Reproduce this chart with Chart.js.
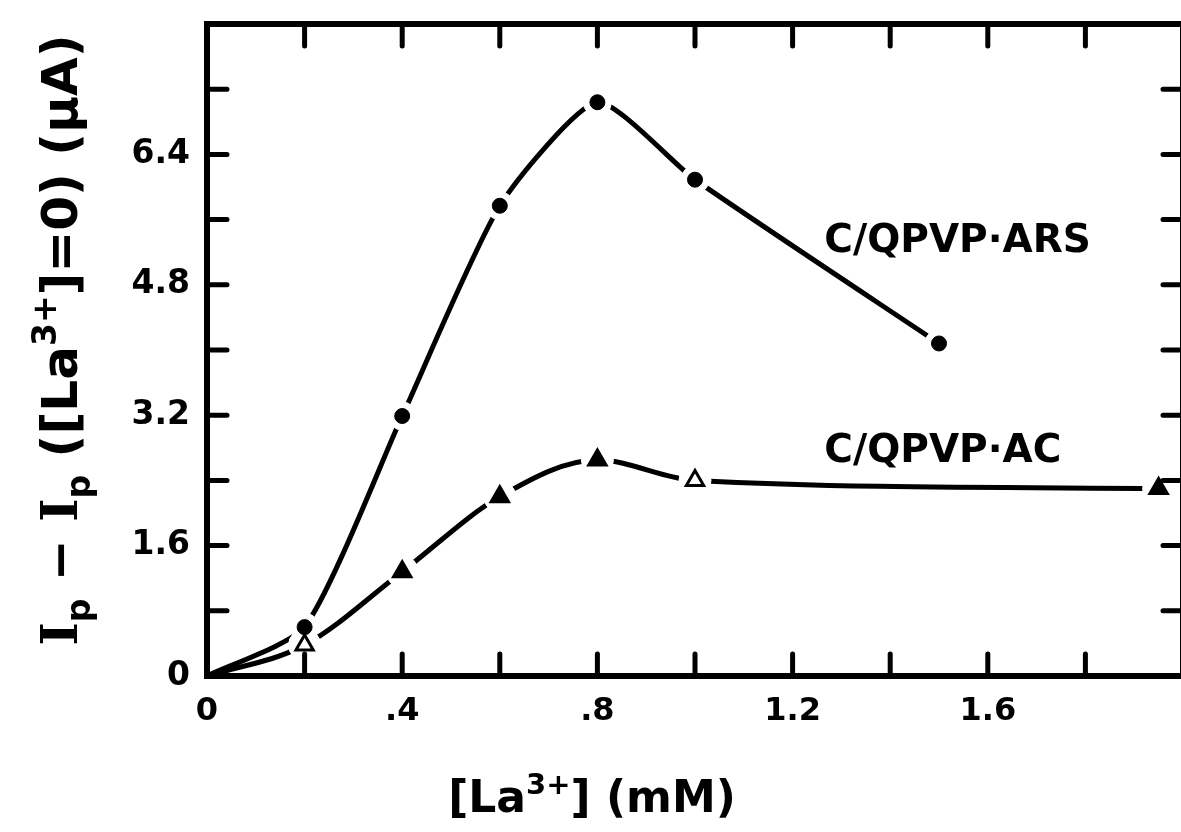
<!DOCTYPE html>
<html>
<head>
<meta charset="utf-8">
<script src="https://cdn.jsdelivr.net/npm/chart.js@4/dist/chart.umd.min.js"></script>
<style>
  html, body { margin: 0; padding: 0; background: #fff; overflow: hidden; }
  #wrap { position: relative; width: 1200px; height: 832px; }
</style>
</head>
<body>
<div id="wrap"><canvas id="chart" width="1200" height="832"></canvas></div>
<script>
// La3+ concentration (mM) and peak-current change (µA) for the two electrodes
const arsConcentration = [0, 0.2, 0.4, 0.6, 0.8, 1.0, 1.5];
const arsCurrent       = [0, 0.60, 3.19, 5.77, 7.04, 6.09, 4.08];
const acConcentration  = [0, 0.2, 0.4, 0.6, 0.8, 1.0, 1.95];
const acCurrent        = [0, 0.38, 1.28, 2.20, 2.65, 2.40, 2.30];

const xTickLabels = ['0', '.4', '.8', '1.2', '1.6', ''];
const yTickLabels = ['0', '1.6', '3.2', '4.8', '6.4', ''];
const seriesNames = ['C/QPVP·ARS', 'C/QPVP·AC'];

const INK = '#000';
const PAPER = '#fff';
const SANS = '"DejaVu Sans", "Liberation Sans", Arial, sans-serif';
const SERIF = '"DejaVu Serif", "Liberation Serif", serif';

const toXY = (xs, ys) => xs.map((x, i) => ({ x, y: ys[i] }));
// the origin point only anchors the curve, it carries no marker
const markerRadius = (xs, r) => xs.map((x, i) => (i === 0 ? 0 : r));

// Draws a run of text with optional sub/superscript pieces, centred on (cx, baseline)
function drawRich(ctx, parts, cx, baseline, size) {
  const fontFor = p => {
    const s = p.mode ? Math.round(size * 0.66) : size;
    return 'bold ' + s + 'px ' + (p.serif ? SERIF : SANS);
  };
  let total = 0;
  parts.forEach(p => { ctx.font = fontFor(p); p.w = ctx.measureText(p.t).width; total += p.w; });
  let x = cx - total / 2;
  ctx.textAlign = 'left';
  ctx.textBaseline = 'alphabetic';
  parts.forEach(p => {
    ctx.font = fontFor(p);
    let dy = 0;
    if (p.mode === 'sub') dy = size * 0.26;
    if (p.mode === 'sup') dy = -size * 0.42;
    ctx.fillText(p.t, x, baseline + dy);
    x += p.w;
  });
}

const framePlugin = {
  id: 'frameAndLabels',
  afterDraw(chart) {
    const { ctx, chartArea: a, scales: { x, y } } = chart;
    ctx.save();
    ctx.strokeStyle = INK;
    ctx.fillStyle = INK;
    ctx.lineCap = 'round';

    // inward tick marks on all four sides
    ctx.lineWidth = 5;
    for (let v = 0.2; v < 1.99; v += 0.2) {
      const px = x.getPixelForValue(v);
      ctx.beginPath();
      ctx.moveTo(px, a.bottom); ctx.lineTo(px, a.bottom - 22);
      ctx.moveTo(px, a.top); ctx.lineTo(px, a.top + 22);
      ctx.stroke();
    }
    for (let v = 0.8; v < 7.99; v += 0.8) {
      const py = y.getPixelForValue(v);
      ctx.beginPath();
      ctx.moveTo(a.left, py); ctx.lineTo(a.left + 20, py);
      ctx.moveTo(a.right, py); ctx.lineTo(a.right - 20, py);
      ctx.stroke();
    }

    // plot frame
    ctx.lineWidth = 6;
    ctx.lineCap = 'square';
    ctx.strokeRect(a.left, a.top, a.right - a.left, a.bottom - a.top);

    // series labels
    ctx.font = 'bold 39px ' + SANS;
    ctx.textAlign = 'left';
    ctx.textBaseline = 'alphabetic';
    ctx.fillText(seriesNames[0], x.getPixelForValue(1.265), y.getPixelForValue(5.2));
    ctx.fillText(seriesNames[1], x.getPixelForValue(1.265), y.getPixelForValue(2.63));

    // x-axis title
    drawRich(ctx, [
      { t: '[La' }, { t: '3+', mode: 'sup' }, { t: '] (mM)' }
    ], 592, 812, 44);

    // y-axis title, rotated to read bottom-to-top
    ctx.translate(77, 340);
    ctx.rotate(-Math.PI / 2);
    drawRich(ctx, [
      { t: 'I', serif: true }, { t: 'p', mode: 'sub' }, { t: ' − ' },
      { t: 'I', serif: true }, { t: 'p', mode: 'sub' }, { t: ' ([La' },
      { t: '3+', mode: 'sup' }, { t: ']=0) (μA)' }
    ], 0, 0, 50);
    ctx.restore();
  }
};

const lineStyle = {
  showLine: true,
  borderColor: INK,
  borderWidth: 5,
  pointRadius: 0,
  borderCapStyle: 'round',
  borderJoinStyle: 'round',
  fill: false,
  order: 3
};

new Chart(document.getElementById('chart'), {
  type: 'scatter',
  data: {
    datasets: [
      // markers (drawn on top)
      {
        label: 'ars-marker', data: toXY(arsConcentration, arsCurrent), showLine: false,
        pointStyle: 'circle', pointRadius: markerRadius(arsConcentration, 7.5),
        pointBackgroundColor: INK, pointBorderColor: INK, pointBorderWidth: 1, order: 1
      },
      {
        label: 'ac-marker', data: toXY(acConcentration, acCurrent), showLine: false,
        pointStyle: 'triangle', pointRadius: markerRadius(acConcentration, 10),
        pointBackgroundColor: [INK, PAPER, INK, INK, INK, PAPER, INK],
        pointBorderColor: INK, pointBorderWidth: 3, order: 1
      },
      // paper-coloured halos that open a small gap in the curve around each marker
      {
        label: 'ars-gap', data: toXY(arsConcentration, arsCurrent), showLine: false,
        pointStyle: 'circle',
        pointRadius: markerRadius(arsConcentration, 14), pointBackgroundColor: PAPER,
        pointBorderColor: PAPER, pointBorderWidth: 1, order: 2
      },
      {
        label: 'ac-gap', data: toXY(acConcentration, acCurrent), showLine: false,
        pointStyle: 'circle',
        pointRadius: markerRadius(acConcentration, 16), pointBackgroundColor: PAPER,
        pointBorderColor: PAPER, pointBorderWidth: 1, order: 2
      },
      // curves
      Object.assign({ label: seriesNames[0], data: toXY(arsConcentration, arsCurrent), tension: 0.2 }, lineStyle),
      Object.assign({ label: seriesNames[1], data: toXY(acConcentration, acCurrent), cubicInterpolationMode: 'monotone' }, lineStyle)
    ]
  },
  options: {
    responsive: false,
    animation: false,
    devicePixelRatio: 1,
    layout: { padding: { top: 24, right: 13, left: 0, bottom: 0 } },
    plugins: { legend: { display: false }, tooltip: { enabled: false } },
    scales: {
      x: {
        type: 'linear', min: 0, max: 2.0,
        afterFit(s) { s.height = 156; s.paddingLeft = 0; s.paddingRight = 0; },
        grid: { display: false, drawTicks: false },
        border: { display: false },
        ticks: {
          stepSize: 0.4, autoSkip: false, maxRotation: 0, padding: 16,
          color: INK, font: { family: SANS, size: 32, weight: 'bold' },
          callback: (v, i) => xTickLabels[i]
        }
      },
      y: {
        type: 'linear', min: 0, max: 8.0,
        afterFit(s) { s.width = 207; s.paddingTop = 0; s.paddingBottom = 0; },
        grid: { display: false, drawTicks: false },
        border: { display: false },
        ticks: {
          stepSize: 1.6, autoSkip: false, padding: 17,
          color: INK, font: { family: SANS, size: 33, weight: 'bold' },
          callback: (v, i) => yTickLabels[i]
        }
      }
    }
  },
  plugins: [framePlugin]
});
</script>
</body>
</html>
